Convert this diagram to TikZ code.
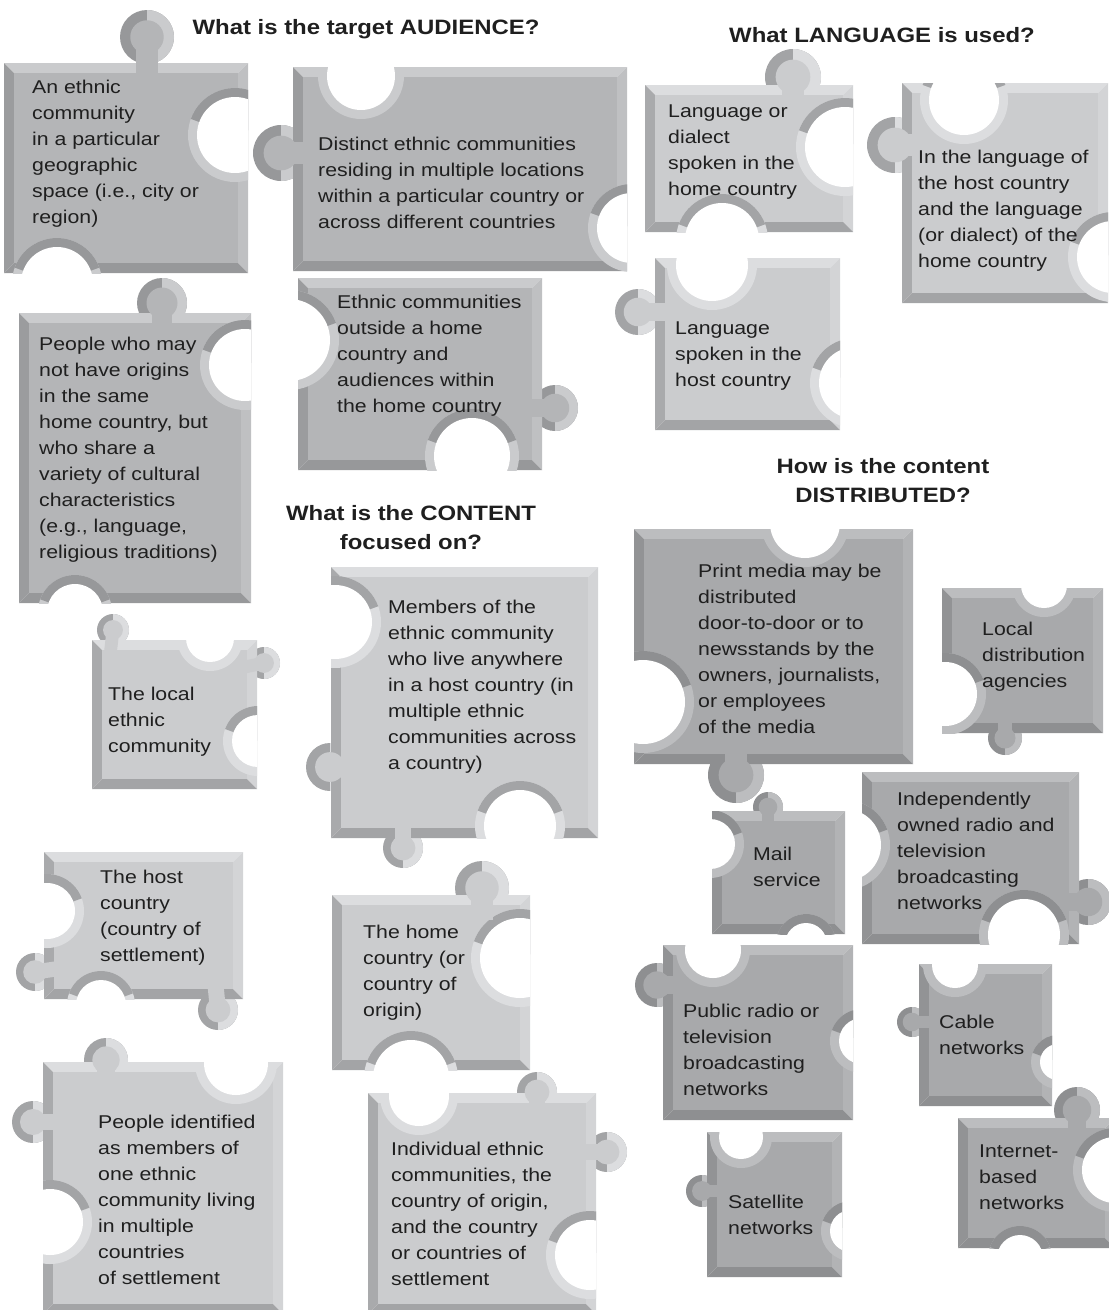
\documentclass[tikz,border=0pt]{standalone}
\usepackage{fontspec}
\setmainfont[FakeStretch=1.15]{Liberation Sans}
\usepackage{xcolor}

\definecolor{midface}{HTML}{B4B5B7}
\definecolor{midlight}{HTML}{CACBCD}
\definecolor{middark}{HTML}{97989A}
\definecolor{paleface}{HTML}{CBCCCE}
\definecolor{palelight}{HTML}{DCDDDF}
\definecolor{paledark}{HTML}{A3A4A6}
\definecolor{deepface}{HTML}{A8A9AB}
\definecolor{deeplight}{HTML}{BCBDBF}
\definecolor{deepdark}{HTML}{8E8F91}

% colour set of the current piece
\newcommand{\pzgroup}[1]{\colorlet{pzface}{#1face}\colorlet{pzlight}{#1light}\colorlet{pzdark}{#1dark}}

% ring of a tab (drawn before the body)
\newcommand{\pzring}[3]{%
  \fill[pzdark] (#1,#2) circle[radius=#3];
  \fill[pzlight] (#1,#2) -- ++(-90:#3) arc[start angle=-90,end angle=90,radius=#3] -- cycle;}

% bevelled body: x1 y1 x2 y2
\newcommand{\pzbody}[4]{%
  \def\pzxa{#1}\def\pzya{#2}\def\pzxb{#3}\def\pzyb{#4}%
  \fill[pzlight] (#1,#2) -- (#3,#2) -- (#3-10,#2+10) -- (#1+10,#2+10) -- cycle;
  \fill[pzlight!50!pzface] (#3,#2) -- (#3,#4) -- (#3-10,#4-10) -- (#3-10,#2+10) -- cycle;
  \fill[pzdark] (#1,#4) -- (#3,#4) -- (#3-10,#4-10) -- (#1+10,#4-10) -- cycle;
  \fill[pzdark!85!pzface] (#1,#2) -- (#1,#4) -- (#1+10,#4-10) -- (#1+10,#2+10) -- cycle;
  \fill[pzface] (#1+10,#2+10) rectangle (#3-10,#4-10);}

% blank cut into the body: cx cy r
\newcommand{\pznotch}[3]{%
  \begin{scope}
    \clip (\pzxa,\pzya) rectangle (\pzxb,\pzyb);
    \fill[pzlight] (#1,#2) circle[radius=#3+9];
    \fill[pzdark] (#1,#2) -- ++(200:#3+9) arc[start angle=200,end angle=340,radius=#3+9] -- cycle;
    \fill[white] (#1,#2) circle[radius=#3];
  \end{scope}}

% inside of a tab and its neck: cx cy r tx ty
\newcommand{\pzneck}[5]{%
  \draw[pzface, line width=0.8*#3] (#1,#2) -- (#4,#5);
  \fill[pzface] (#1,#2) circle[radius=0.62*#3];}

\begin{document}
\begin{tikzpicture}[x=1pt, y=-1pt,
  pztext/.style={anchor=north west, inner sep=0pt, align=left,
    font=\fontsize{18.5}{26}\selectfont, text=black!88},
  pztitle/.style={inner sep=0pt, align=center,
    font=\bfseries\fontsize{20.8}{29}\selectfont, text=black!88}]
  \useasboundingbox (0,0) rectangle (1109,1310);

  % titles
  \node[pztitle, anchor=base] (ttlAudience) at (366,34) {What is the target AUDIENCE?};
  \node[pztitle, anchor=base] (ttlLanguage) at (882,42) {What LANGUAGE is used?};
  \node[pztitle, anchor=north] (ttlContent) at (411,505) {What is the CONTENT\\focused on?};
  \node[pztitle, anchor=north] (ttlDistrib) at (883,458) {How is the content\\DISTRIBUTED?};

  % audience
  \pzgroup{mid}
  \pzring{147}{37}{27}
  \pzbody{4}{63}{248}{273}
  \pznotch{235}{135}{38}
  \pznotch{57}{283}{36}
  \pzneck{147}{37}{27}{147}{80}
  \node[pztext] (audSpace) at (32,79.5) {An ethnic\\community\\in a particular\\geographic\\space (i.e., city or\\region)};

  \pzring{281}{153}{28}
  \pzbody{293}{67}{627}{271}
  \pznotch{361}{76}{34}
  \pznotch{632}{228}{35}
  \pzneck{281}{153}{28}{315}{153}
  \node[pztext] (audMulti) at (318,136.5) {Distinct ethnic communities\\residing in multiple locations\\within a particular country or\\across different countries};

  \pzring{162}{303}{25}
  \pzbody{19}{313}{251}{603}
  \pznotch{245}{365}{36}
  \pznotch{75}{612}{28}
  \pzneck{162}{303}{25}{162}{335}
  \node[pztext] (audCulture) at (39,336.5) {People who may\\not have origins\\in the same\\home country, but\\who share a\\variety of cultural\\characteristics\\(e.g., language,\\religious traditions)};

  \pzring{555}{408}{23}
  \pzbody{298}{278}{542}{470}
  \pznotch{289}{340}{41}
  \pznotch{472}{456}{38}
  \pzneck{555}{408}{23}{520}{408}
  \node[pztext] (audHome) at (337,294.5) {Ethnic communities\\outside a home\\country and\\audiences within\\the home country};

  % language
  \pzgroup{pale}
  \pzring{793}{77}{28}
  \pzbody{645}{85}{853}{232}
  \pznotch{845}{147}{40}
  \pznotch{722}{240}{37}
  \pzneck{793}{77}{28}{793}{108}
  \node[pztext] (lanHome) at (668,104.5) {Language or\\dialect\\spoken in the\\home country};

  \pzring{895}{145}{28}
  \pzbody{902}{83}{1108}{303}
  \pznotch{964}{100}{35}
  \pznotch{1113}{257}{36}
  \pzneck{895}{145}{28}{925}{145}
  \node[pztext] (lanBoth) at (918,149.5) {In the language of\\the host country\\and the language\\(or dialect) of the\\home country};

  \pzring{638}{312}{23}
  \pzbody{655}{258}{840}{430}
  \pznotch{712}{265}{36}
  \pznotch{855}{383}{36}
  \pzneck{638}{312}{23}{678}{312}
  \node[pztext] (lanHost) at (675,321.5) {Language\\spoken in the\\host country};

  % content
  \pzring{113}{630}{16}
  \pzring{264}{663}{16}
  \pzbody{92}{640}{257}{789}
  \pznotch{210}{638}{24}
  \pznotch{258}{741}{26}
  \pzneck{113}{630}{16}{110}{656}
  \pzneck{264}{663}{16}{240}{668}
  \node[pztext] (conLocal) at (108,686.5) {The local\\ethnic\\community};

  \pzring{330}{767}{24}
  \pzring{403}{848}{20}
  \pzbody{331}{567}{598}{838}
  \pznotch{335}{622}{37}
  \pznotch{520}{826}{36}
  \pzneck{330}{767}{24}{360}{767}
  \pzneck{403}{848}{20}{403}{815}
  \node[pztext] (conMembers) at (388,599.5) {Members of the\\ethnic community\\who live anywhere\\in a host country (in\\multiple ethnic\\communities across\\a country)};

  \pzring{35}{972}{19}
  \pzring{218}{1010}{20}
  \pzbody{44}{852}{243}{999}
  \pznotch{47}{911}{28}
  \pznotch{101}{1005}{25}
  \pzneck{35}{972}{19}{62}{968}
  \pzneck{218}{1010}{20}{215}{980}
  \node[pztext] (conHost) at (100,869.5) {The host\\country\\(country of\\settlement)};

  \pzring{482}{888}{27}
  \pzbody{332}{895}{530}{1070}
  \pznotch{520}{958}{40}
  \pznotch{411}{1078}{38}
  \pzneck{482}{888}{27}{482}{920}
  \node[pztext] (conHome) at (363,924.5) {The home\\country (or\\country of\\origin)};

  \pzring{106}{1060}{22}
  \pzring{33}{1122}{21}
  \pzbody{43}{1062}{283}{1314}
  \pznotch{236}{1063}{32}
  \pznotch{50}{1222}{33}
  \pzneck{106}{1060}{22}{106}{1085}
  \pzneck{33}{1122}{21}{65}{1122}
  \node[pztext] (conDiaspora) at (98,1114.5) {People identified\\as members of\\one ethnic\\community living\\in multiple\\countries\\of settlement};

  \pzring{537}{1092}{20}
  \pzring{607}{1152}{20}
  \pzbody{368}{1093}{596}{1314}
  \pznotch{419}{1096}{30}
  \pznotch{590}{1255}{35}
  \pzneck{537}{1092}{20}{537}{1115}
  \pzneck{607}{1152}{20}{580}{1152}
  \node[pztext] (conAll) at (391,1141.5) {Individual ethnic\\communities, the\\country of origin,\\and the country\\or countries of\\settlement};

  % distribution
  \pzgroup{deep}
  \pzring{736}{775}{28}
  \pzbody{634}{529}{913}{764}
  \pznotch{805}{523}{35}
  \pznotch{643}{702}{42}
  \pzneck{736}{775}{28}{736}{745}
  \node[pztext] (disPrint) at (698,563.5) {Print media may be\\distributed\\door-to-door or to\\newsstands by the\\owners, journalists,\\or employees\\of the media};

  \pzring{1005}{738}{17}
  \pzbody{942}{588}{1103}{733}
  \pznotch{1044}{585}{23}
  \pznotch{945}{694}{32}
  \pzneck{1005}{738}{17}{1005}{715}
  \node[pztext] (disLocal) at (982,621.5) {Local\\distribution\\agencies};

  \pzring{768}{807}{15}
  \pzbody{712}{811}{845}{934}
  \pznotch{710}{844}{25}
  \pznotch{806}{944}{21}
  \pzneck{768}{807}{15}{768}{828}
  \node[pztext] (disMail) at (753,846.5) {Mail\\service};

  \pzring{1088}{902}{23}
  \pzbody{862}{772}{1079}{944}
  \pznotch{845}{845}{36}
  \pznotch{1024}{935}{36}
  \pzneck{1088}{902}{23}{1062}{902}
  \node[pztext] (disIndep) at (897,791.5) {Independently\\owned radio and\\television\\broadcasting\\networks};

  \pzring{657}{985}{22}
  \pzbody{663}{945}{853}{1120}
  \pznotch{713}{950}{28}
  \pznotch{862}{1041}{23}
  \pzneck{657}{985}{22}{685}{985}
  \node[pztext] (disPublic) at (683,1003.5) {Public radio or\\television\\broadcasting\\networks};

  \pzring{702}{1191}{16}
  \pzbody{707}{1132}{842}{1277}
  \pznotch{741}{1137}{22}
  \pznotch{851}{1231}{21}
  \pzneck{702}{1191}{16}{725}{1191}
  \node[pztext] (disSat) at (728,1194.5) {Satellite\\networks};

  \pzring{912}{1022}{15}
  \pzbody{919}{964}{1052}{1106}
  \pznotch{955}{965}{23}
  \pznotch{1058}{1062}{18}
  \pzneck{912}{1022}{15}{938}{1022}
  \node[pztext] (disCable) at (939,1014.5) {Cable\\networks};

  \pzring{1077}{1110}{23}
  \pzbody{958}{1118}{1115}{1248}
  \pznotch{1115}{1170}{33}
  \pznotch{1020}{1258}{23}
  \pzneck{1077}{1110}{23}{1077}{1140}
  \node[pztext] (disNet) at (979,1144.5) {Internet-\\based\\networks};
\end{tikzpicture}
\end{document}
